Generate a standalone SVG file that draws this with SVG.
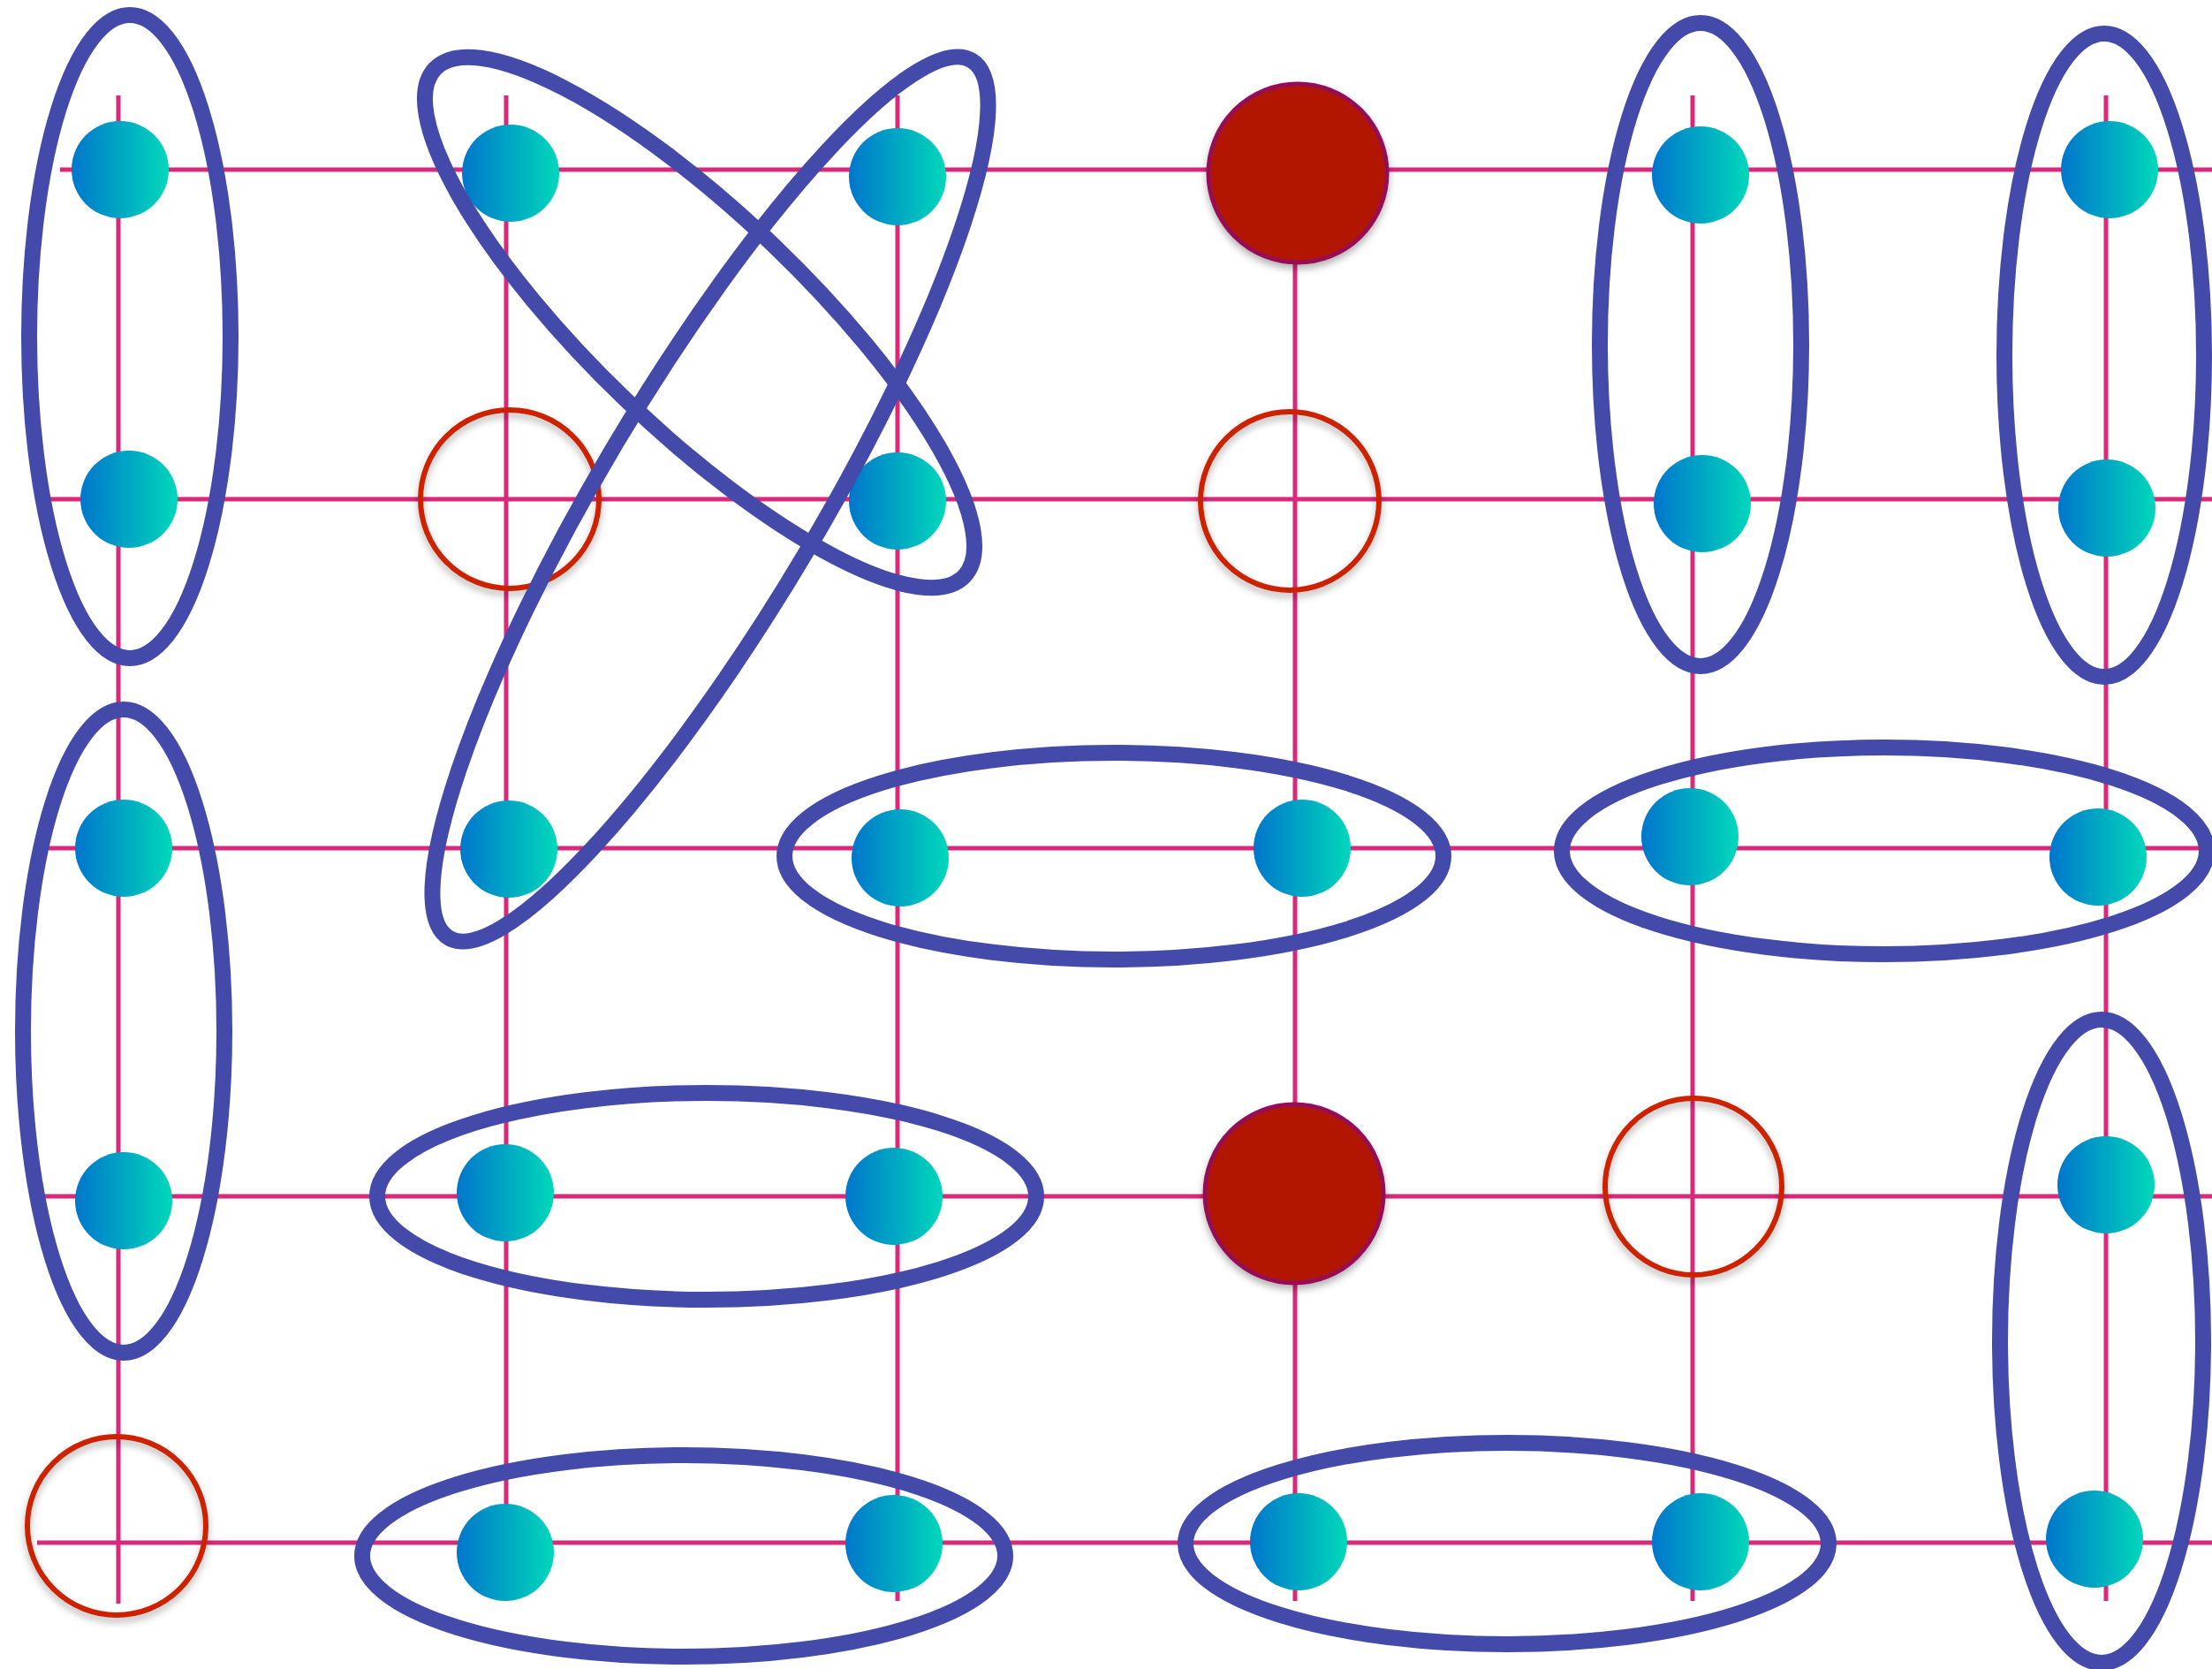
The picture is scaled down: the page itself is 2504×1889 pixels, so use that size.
<svg xmlns="http://www.w3.org/2000/svg" width="2504" height="1889" viewBox="0 0 2504 1889">
<defs>
<linearGradient id="tg" x1="0" y1="0" x2="1" y2="0">
<stop offset="0" stop-color="#0076cc"/>
<stop offset="1" stop-color="#00d8ba"/>
</linearGradient>
<filter id="sh" x="-20%" y="-20%" width="140%" height="140%">
<feDropShadow dx="0" dy="5" stdDeviation="4" flood-color="#000" flood-opacity="0.3"/>
</filter>
</defs>
<style>
.g{stroke:#d9297b;stroke-width:5;fill:none}
.t{fill:url(#tg)}
.r{fill:#b31800;stroke:#961056;stroke-width:5;filter:url(#sh)}
.e{fill:none;stroke:#cc2200;stroke-width:6;filter:url(#sh)}
.b{fill:none;stroke:#444aa9;stroke-width:18}
</style>
<rect width="2504" height="1889" fill="#fff"/>
<g id="connectors">
<line class="g" x1="134" y1="108" x2="134" y2="1815"/>
<line class="g" x1="573" y1="108" x2="573" y2="1812"/>
<line class="g" x1="1016" y1="108" x2="1016" y2="1812"/>
<line class="g" x1="1466" y1="196" x2="1466" y2="1812"/>
<line class="g" x1="1916" y1="108" x2="1916" y2="1812"/>
<line class="g" x1="2384" y1="108" x2="2384" y2="1812"/>
<line class="g" x1="68" y1="192" x2="2504" y2="192"/>
<line class="g" x1="57" y1="565" x2="2504" y2="565"/>
<line class="g" x1="55" y1="960" x2="2504" y2="960"/>
<line class="g" x1="51" y1="1354" x2="2504" y2="1354"/>
<line class="g" x1="42" y1="1746" x2="2504" y2="1746"/>
</g>
<g id="n11"><circle class="t" cx="136" cy="192" r="55"/></g>
<g id="n12"><circle class="t" cx="578" cy="196" r="55"/></g>
<g id="n13"><circle class="t" cx="1016" cy="200" r="55"/></g>
<g id="n14"><circle class="r" cx="1469" cy="196" r="101"/></g>
<g id="n15"><circle class="t" cx="1925" cy="198" r="55"/></g>
<g id="n16"><circle class="t" cx="2388" cy="192" r="55"/></g>
<g id="n21"><circle class="t" cx="146" cy="565" r="55"/></g>
<g id="n22"><circle class="e" cx="577" cy="565" r="101"/></g>
<g id="n23"><circle class="t" cx="1016" cy="567" r="55"/></g>
<g id="n24"><circle class="e" cx="1460" cy="567" r="101"/></g>
<g id="n25"><circle class="t" cx="1927" cy="570" r="55"/></g>
<g id="n26"><circle class="t" cx="2385" cy="575" r="55"/></g>
<g id="n31"><circle class="t" cx="140" cy="960" r="55"/></g>
<g id="n32"><circle class="t" cx="576" cy="961" r="55"/></g>
<g id="n33"><circle class="t" cx="1019" cy="971" r="55"/></g>
<g id="n34"><circle class="t" cx="1474" cy="960" r="55"/></g>
<g id="n35"><circle class="t" cx="1913" cy="947" r="55"/></g>
<g id="n36"><circle class="t" cx="2375" cy="970" r="55"/></g>
<g id="n41"><circle class="t" cx="140" cy="1359" r="55"/></g>
<g id="n42"><circle class="t" cx="572" cy="1350" r="55"/></g>
<g id="n43"><circle class="t" cx="1012" cy="1354" r="55"/></g>
<g id="n44"><circle class="r" cx="1465" cy="1351" r="101"/></g>
<g id="n45"><circle class="e" cx="1917" cy="1343" r="100"/></g>
<g id="n46"><circle class="t" cx="2384" cy="1341" r="55"/></g>
<g id="n51"><circle class="e" cx="132" cy="1727" r="101"/></g>
<g id="n52"><circle class="t" cx="572" cy="1757" r="55"/></g>
<g id="n53"><circle class="t" cx="1012" cy="1747" r="55"/></g>
<g id="n54"><circle class="t" cx="1470" cy="1745" r="55"/></g>
<g id="n55"><circle class="t" cx="1925" cy="1745" r="55"/></g>
<g id="n56"><circle class="t" cx="2371" cy="1742" r="55"/></g>
<g id="groups">
<ellipse class="b" cx="147" cy="381" rx="114" ry="364"/>
<ellipse class="b" cx="140" cy="1167" rx="114" ry="364"/>
<ellipse class="b" cx="0" cy="0" rx="415" ry="121" transform="translate(792 365) rotate(43.8)"/>
<ellipse class="b" cx="0" cy="0" rx="578" ry="124" transform="translate(804 565) rotate(-59.2)"/>
<ellipse class="b" cx="1261" cy="969" rx="373" ry="117"/>
<ellipse class="b" cx="2133" cy="963" rx="365" ry="117"/>
<ellipse class="b" cx="1925" cy="390" rx="114" ry="364"/>
<ellipse class="b" cx="2382" cy="402" rx="113" ry="364"/>
<ellipse class="b" cx="800" cy="1354" rx="373" ry="117"/>
<ellipse class="b" cx="2379" cy="1518" rx="115" ry="364"/>
<ellipse class="b" cx="774" cy="1761" rx="364" ry="114"/>
<ellipse class="b" cx="1706" cy="1747" rx="364" ry="114"/>
</g>
</svg>
